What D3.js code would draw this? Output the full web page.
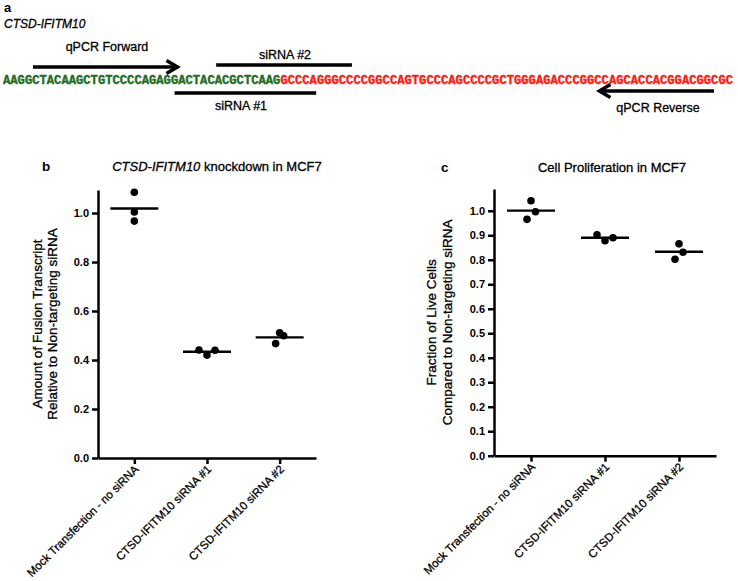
<!DOCTYPE html>
<html>
<head>
<meta charset="utf-8">
<script src="https://cdn.jsdelivr.net/npm/d3@7"></script>
<style>
  body { margin: 0; background: white; }
  text { font-family: 'Liberation Sans', Arial, sans-serif; }
  .heavy { stroke: black; stroke-width: 0.3; }
</style>
</head>
<body>
<script>
// ---- data ----
const greenSeq = 'AAGGCTACAAGCTGTCCCCAGAGGACTACACGCTCAAG';
const redSeq = 'GCCCAGGGCCCCGGCCAGTGCCCAGCCCCGCTGGGAGACCCGGCCAGCACCACGGACGGCGC';
// features in nucleotide positions along the sequence
const featureNames = ['qPCR Forward', 'siRNA #2', 'siRNA #1', 'qPCR Reverse'];
const featureStart = [4.1, 29.2, 23.5, 81.7];
const featureEnd = [23.9, 47.8, 42.9, 97.4];

const categories = ['Mock Transfection - no siRNA', 'CTSD-IFITM10 siRNA #1', 'CTSD-IFITM10 siRNA #2'];
const knockdownValues = [[1.085, 1.004, 0.967], [0.441, 0.420, 0.440], [0.467, 0.511, 0.499]];
const proliferationValues = [[1.041, 0.965, 0.996], [0.902, 0.878, 0.890], [0.865, 0.831, 0.802]];
const knockdownTicks = [0, 0.2, 0.4, 0.6, 0.8, 1.0];
const proliferationTicks = [0, 0.1, 0.2, 0.3, 0.4, 0.5, 0.6, 0.7, 0.8, 0.9, 1.0];

// horizontal scatter of dots (px) so they do not overlap
const knockdownJitter = [[0, 0, 0], [-8, 0, 8], [-4, 0, 4]];
const proliferationJitter = [[0, -4, 4.5], [-8, 0, 8], [0, 4, -4]];

const svg = d3.select('body').append('svg').attr('width', 738).attr('height', 581);

// ---- panel a ----
svg.append('text').attr('x', 4).attr('y', 12).attr('font-weight', 'bold').attr('font-size', 13).text('a');
svg.append('text').attr('x', 4).attr('y', 28).attr('class', 'heavy')
  .attr('font-style', 'italic').attr('font-size', 12).text('CTSD-IFITM10');

let nt = d3.scaleLinear([0, greenSeq.length + redSeq.length], [3, 733]);
let seqY = 84;
let seqFont = "'Liberation Mono', 'DejaVu Sans Mono', monospace";
svg.append('text')
  .attr('x', nt(0)).attr('y', seqY)
  .attr('textLength', nt(greenSeq.length) - nt(0)).attr('lengthAdjust', 'spacingAndGlyphs')
  .style('font-family', seqFont).style('stroke', '#1e6e1e').style('stroke-width', 0.4)
  .attr('font-weight', 'bold').attr('font-size', 12.1).attr('fill', '#1e6e1e')
  .text(greenSeq);
svg.append('text')
  .attr('x', nt(greenSeq.length)).attr('y', seqY)
  .attr('textLength', nt(greenSeq.length + redSeq.length) - nt(greenSeq.length)).attr('lengthAdjust', 'spacingAndGlyphs')
  .style('font-family', seqFont).style('stroke', '#ff1a10').style('stroke-width', 0.4)
  .attr('font-weight', 'bold').attr('font-size', 12.1).attr('fill', '#ff1a10')
  .text(redSeq);

// feature lines: y of line, y of label baseline, arrow direction
let featY = [67, 65, 93, 91];
let labelY = [51, 59, 110, 112];
let labelX = [107, 285, 241, 658];
let arrowDir = [1, 0, 0, -1];
featureNames.forEach((name, i) => {
  let x0 = nt(featureStart[i]), x1 = nt(featureEnd[i]);
  svg.append('line').attr('x1', x0).attr('x2', x1).attr('y1', featY[i]).attr('y2', featY[i])
    .attr('stroke', 'black').attr('stroke-width', 3.5);
  if (arrowDir[i] !== 0) {
    let tip = arrowDir[i] > 0 ? x1 : x0;
    let back = tip - arrowDir[i] * 11;
    svg.append('polyline')
      .attr('points', `${back},${featY[i] - 6.5} ${tip},${featY[i]} ${back},${featY[i] + 6.5}`)
      .attr('fill', 'none').attr('stroke', 'black').attr('stroke-width', 3.5);
  }
  svg.append('text').attr('x', labelX[i]).attr('y', labelY[i]).attr('class', 'heavy')
    .attr('text-anchor', 'middle').attr('font-size', 12.5).text(name);
});

// ---- panels b and c ----
function drawPanel(p) {
  let y = d3.scaleLinear([0, p.top], [p.bottom, p.topY]);
  let x = d3.scalePoint(categories, [p.left, p.right]).padding(0.5);
  let g = svg.append('g');

  let yAxis = g.append('g').attr('transform', `translate(${p.left},0)`)
    .call(d3.axisLeft(y).tickValues(p.ticks).tickFormat(d3.format('.1f')).tickSize(6).tickPadding(3).tickSizeOuter(0));
  g.append('g').attr('transform', `translate(0,${p.bottom})`)
    .call(d3.axisBottom(x).tickSize(6).tickSizeOuter(0).tickFormat(''));
  g.selectAll('.domain').attr('stroke-width', 2.5);
  g.selectAll('.tick line').attr('stroke-width', 2.5);
  yAxis.selectAll('text').attr('font-size', 11).attr('font-weight', 'bold').attr('font-family', 'Liberation Sans, Arial, sans-serif');

  // rotated category labels
  g.selectAll('.cat').data(categories).join('text')
    .attr('class', 'cat heavy')
    .attr('text-anchor', 'end').attr('font-size', 11.5)
    .attr('transform', d => `translate(${x(d) + 5},${p.bottom + 12}) rotate(-45)`)
    .text(d => d);

  // mean lines
  g.selectAll('.mean').data(p.values).join('line')
    .attr('class', 'mean')
    .attr('x1', (d, i) => x(categories[i]) - 24).attr('x2', (d, i) => x(categories[i]) + 24)
    .attr('y1', d => y(d3.mean(d))).attr('y2', d => y(d3.mean(d)))
    .attr('stroke', 'black').attr('stroke-width', 2.4);

  // dots
  let pts = p.values.flatMap((vals, i) => vals.map((v, j) => ({ cat: categories[i], v: v, dx: p.jitter[i][j] })));
  g.selectAll('.dot').data(pts).join('circle')
    .attr('class', 'dot')
    .attr('cx', d => x(d.cat) + d.dx).attr('cy', d => y(d.v)).attr('r', 3.8)
    .attr('fill', 'black');

  // y label
  let cy = (p.bottom + p.topY) / 2;
  p.ylabel.forEach((line, i) => {
    g.append('text').attr('class', 'heavy')
      .attr('transform', `translate(${p.ylabelX[i]},${cy}) rotate(-90)`)
      .attr('text-anchor', 'middle').attr('dominant-baseline', 'central')
      .attr('font-size', 13.5).text(line);
  });

  // titles
  g.append('text').attr('x', p.letterX).attr('y', p.titleY).attr('font-weight', 'bold').attr('font-size', 13.5).text(p.letter);
  let t = g.append('text').attr('x', p.titleX).attr('y', p.titleY).attr('class', 'heavy')
    .attr('text-anchor', 'middle').attr('font-size', 13);
  p.title.forEach(s => t.append('tspan').attr('font-style', s.italic ? 'italic' : 'normal').text(s.text));
}

drawPanel({
  left: 98, right: 316, bottom: 458, topY: 190, top: 1.094,
  ticks: knockdownTicks, values: knockdownValues, jitter: knockdownJitter,
  ylabel: ['Amount of Fusion Transcript', 'Relative to Non-targeting siRNA'], ylabelX: [37.5, 52.5],
  letter: 'b', letterX: 42, titleX: 217, titleY: 171,
  title: [{ text: 'CTSD-IFITM10', italic: true }, { text: ' knockdown in MCF7' }]
});

drawPanel({
  left: 494, right: 716, bottom: 455.7, topY: 189, top: 1.089,
  ticks: proliferationTicks, values: proliferationValues, jitter: proliferationJitter,
  ylabel: ['Fraction of Live Cells', 'Compared to Non-targeting siRNA'], ylabelX: [431, 447],
  letter: 'c', letterX: 441, titleX: 612, titleY: 172,
  title: [{ text: 'Cell Proliferation in MCF7' }]
});
</script>
</body>
</html>
